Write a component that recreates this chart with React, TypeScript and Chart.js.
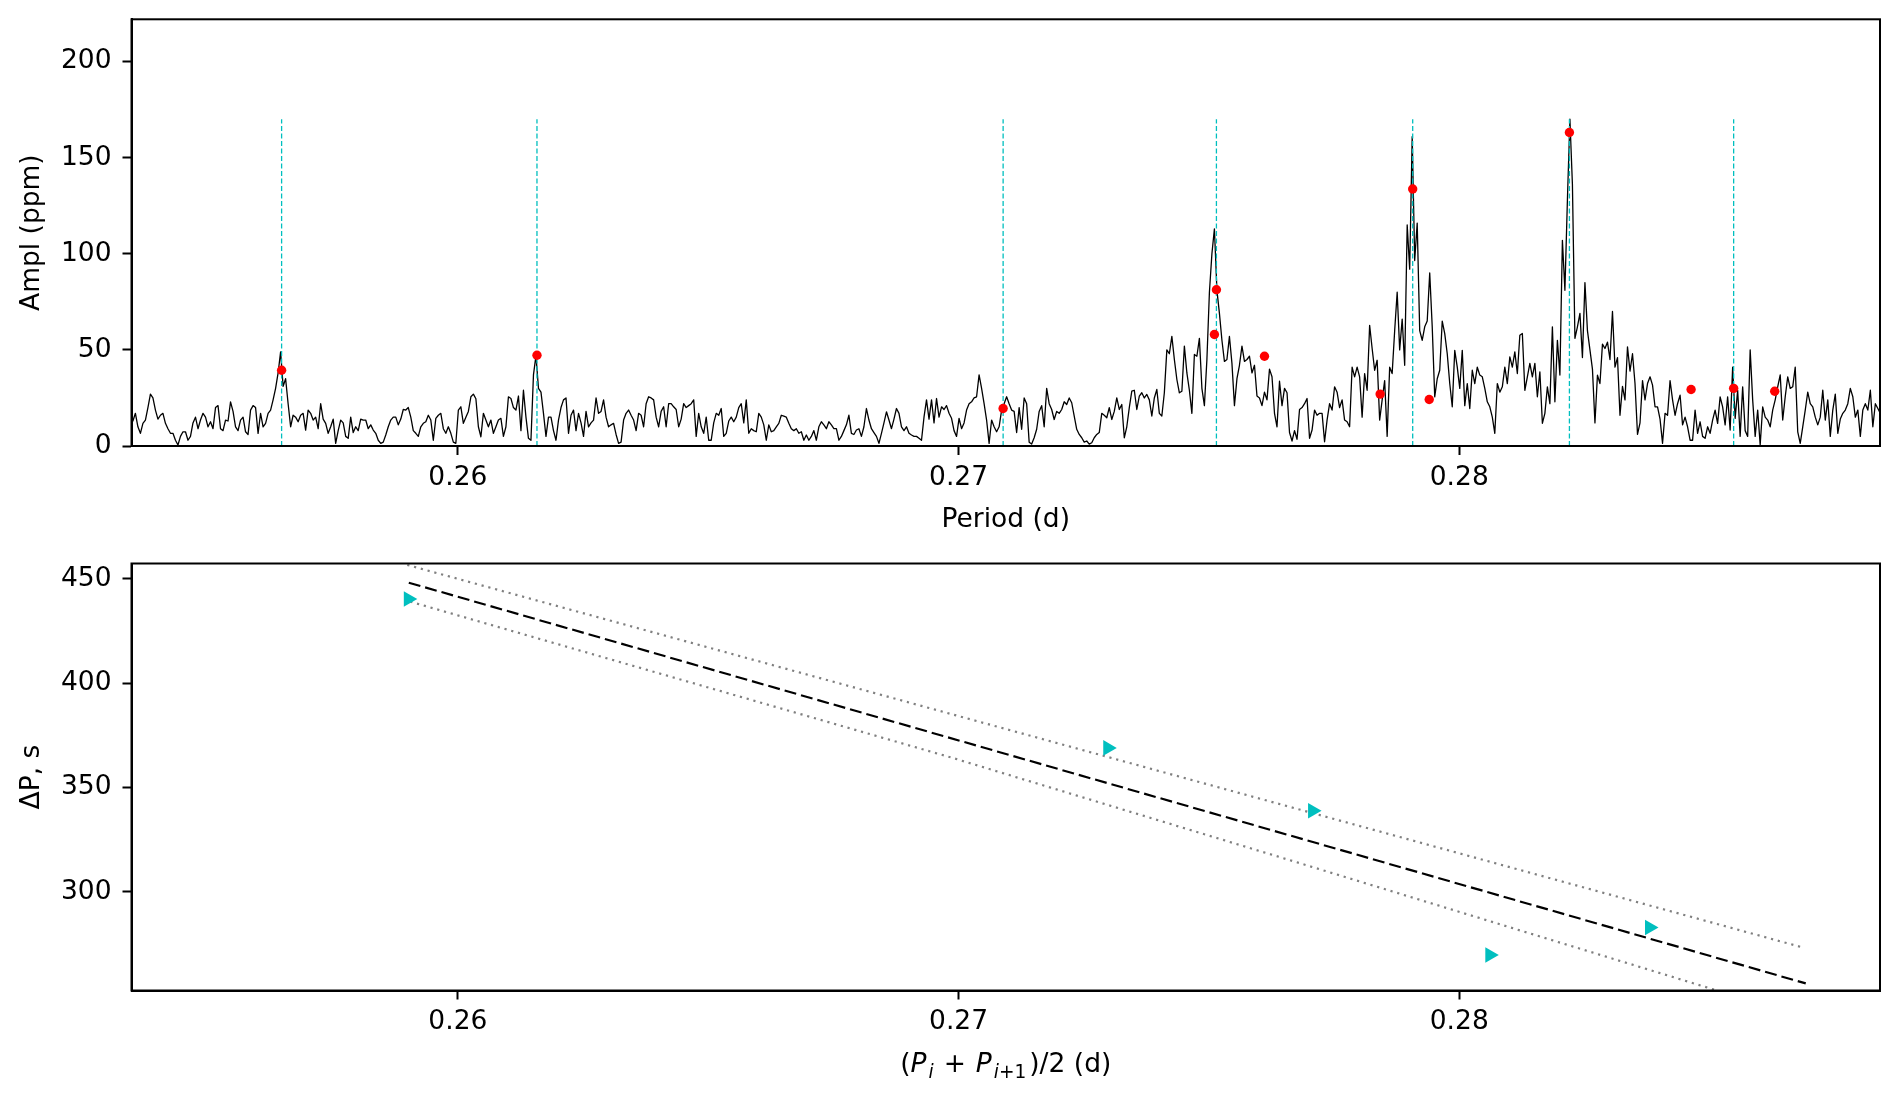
import React, { useEffect, useRef } from 'react';
import { Chart, registerables } from 'chart.js';

Chart.register(...registerables);

const FONT_FAMILY = '"DejaVu Sans", sans-serif';
const FONT_SIZE = 26.5;

// ---------- shared period axis ----------
const PERIOD_MIN = 0.253482;
const PERIOD_MAX = 0.288403;
const PERIOD_TICKS = [0.26, 0.27, 0.28];
const PERIOD_TICK_LABELS = ['0.26', '0.27', '0.28'];

// ---------- top panel: amplitude spectrum ----------
const AMPL_MIN = 0;
const AMPL_MAX = 222;
const AMPL_TICKS = [0, 50, 100, 150, 200];
const AMPL_TICK_LABELS = ['0', '50', '100', '150', '200'];

// amplitude (ppm) sampled every 0.00005 d starting at SPECTRUM_START
const SPECTRUM_START = 0.25346;
const SPECTRUM_STEP = 0.00005;
const SPECTRUM_AMPL = [
  12, 13,
  17, 10, 6.6, 11.8, 13.5, 20, 27, 25, 18.7, 14,
  16, 17, 11.8, 9, 6.6, 6.6, 3, 0.5, 5, 7.4,
  7.4, 3, 5, 12, 15, 9, 13.5, 17, 15, 10,
  12.6, 9, 20, 21, 9, 8, 13.5, 13, 23, 18,
  10, 8, 13.5, 15, 7.4, 6, 18.7, 21, 20, 6.6,
  17, 10, 11.8, 17, 18.7, 24, 30, 38, 49, 31,
  35, 22, 10, 16, 15, 12.6, 16, 17, 8.3, 18.7,
  17, 13.5, 15, 9, 22, 14, 11.8, 6.6, 10, 14,
  1.4, 8, 13.5, 12, 5, 4, 15, 7, 10, 8,
  14, 13.5, 13.5, 9, 11, 8.3, 6.6, 3, 1.4, 2,
  5.7, 10, 13.5, 15, 15, 11, 14, 19, 18.7, 20,
  15, 8, 6.6, 5, 10, 11.8, 12.6, 16, 13.5, 3,
  14.4, 16, 17, 9, 6.6, 10, 6.6, 2, 1.4, 18.7,
  20.4, 11.8, 15, 18, 25.6, 27, 24.6, 10, 4.8, 17,
  13.5, 10, 13.5, 6.6, 10, 13.5, 14.4, 5, 10, 25.6,
  24.7, 20, 18.7, 26, 8, 29, 15, 4, 3, 37,
  47, 30, 28, 17, 5, 15, 15, 8, 3, 13.5,
  20, 24, 25, 6.6, 16, 18.7, 8, 17, 12, 5,
  18, 10, 12, 13.5, 25, 17, 18, 24, 15, 10,
  11, 11.8, 6, 1.4, 2, 13.5, 17, 18.7, 16, 13.5,
  8, 17, 16, 10, 22, 25.6, 25, 24, 15, 10,
  18, 20.4, 10, 22, 22, 20.4, 19, 10, 14, 22,
  20, 21, 22, 24, 5, 17, 10, 6.6, 15, 3,
  3, 12, 17, 16,
  19.5, 5, 6.6, 13, 15, 12.6, 15, 20, 22, 12,
  24, 6.6, 9, 8, 7.4, 17, 15, 11, 3, 11,
  7.4, 8, 10, 11.8, 16, 15.5, 15, 11.8, 9, 8,
  9, 6.6, 7.4, 3, 5.7, 3, 5, 8, 3, 10,
  12.6, 11, 9, 12.6, 11, 9, 9, 3, 5, 8,
  11, 16, 6.6, 6, 8.3, 9, 5, 10, 19.5, 13.5,
  9, 7, 5, 1.4, 6.6, 12, 17.8, 13.5, 9, 14,
  19.5, 17, 10, 8, 10, 6.6, 5.7, 5, 5, 4,
  3, 15, 24, 14, 24, 12, 24.7, 15, 20.4, 19,
  21, 17, 14.4, 8, 5, 14.4, 9, 12, 18.7, 22,
  23, 25, 25.6, 37, 30, 22, 13.5, 1.4, 13.5, 10,
  7.4, 10, 18.7, 22, 25.6, 22, 18.7, 18,
  7, 20, 8.7, 25, 22, 2, 1, 4.3, 8.7, 18,
  21, 10, 30, 22, 19, 13.8, 18, 17, 19, 23,
  21.6, 25, 22.5, 15.6, 8.7, 6, 4.3, 2, 2.6, 1,
  1.7, 4.3, 6, 7, 17, 16, 14.7, 20, 13.8, 18,
  25, 19, 21.6, 4.3, 10, 20, 28.5, 29, 19, 26,
  27.7, 25, 26.8, 24, 15.6, 25, 29.4, 17, 15.6, 27.7,
  50, 48, 57, 45, 34.6, 27.7, 28.5, 52, 38, 29,
  17, 47.6, 46.7, 56, 30, 21, 45, 80, 100, 113,
  81, 69, 55, 44, 45, 57, 43, 21, 35, 42,
  52, 44, 45, 46.7, 38, 42, 26, 25, 21, 28,
  24, 40, 36, 17, 10, 33.7, 21, 30, 27.7, 7,
  2.6, 8, 3.5, 19, 20, 22,
  24.7, 4, 8.3, 18.7, 16, 17, 17, 2.2, 13.5, 22,
  18.7, 30.8, 28, 20, 24, 13.5, 12.6, 10, 41, 36,
  41, 36, 15, 37.7, 29, 62.8, 50.7, 39.4, 44.6, 13.5,
  24, 34, 5, 41, 37.7, 60, 80, 50, 66, 42,
  115, 92, 161, 96.5, 116, 60, 55, 62, 65, 90,
  62, 25.6, 35, 39.4, 65, 58.5, 48, 32.5, 20.4, 49.8,
  41, 30, 49.8, 21, 32.5, 19.5, 39.4, 32.5, 41, 36.9,
  36, 30, 23, 20.4, 15, 6.6, 32.5, 28, 30.8, 41,
  32.5, 46.4, 41, 49, 37.7, 57.6, 58.5, 29, 36, 43,
  36, 43, 25.6, 38.6, 11.8, 17, 30.8, 22, 62, 23,
  55, 36.9, 107, 81, 128, 170, 136, 56, 62, 69,
  46, 85, 60, 50, 40, 12,
  36.9, 32.5, 53, 50.7, 54, 45, 70, 41, 46, 16,
  31, 24, 51.6, 39, 48, 32.5, 6, 12, 34, 24,
  32.5, 36, 31.7, 20.4, 20.4, 14, 1.4, 17, 16, 34,
  24, 16, 22, 26.5, 11, 15, 10, 3, 3, 18.7,
  6.6, 12.6, 5, 4, 10, 6.6, 13.5, 18.7, 11.8, 25.6,
  20.4, 11, 25.6, 8.3, 41, 14.4, 29, 5, 30.8, 8,
  5, 50, 24, 5, 18.7, 0.5, 20.4, 15, 13.5, 10,
  18.7, 24, 30.8, 37, 13.5, 25.6, 36, 30, 30.8, 41,
  7.4, 1.4, 10, 18.7, 28, 22, 20.4, 15, 11, 15,
  29, 13.5, 24, 5, 18.7, 27, 6.6, 14, 17, 18.7,
  22, 30, 25.6, 15, 18.7, 5, 18.7, 22, 18.7, 29,
  10, 22, 19.5, 17, 18,
];

const MODE_PERIODS = [0.25648, 0.26158, 0.27089, 0.27515, 0.27907, 0.2822, 0.28548];
const MODE_LINE_TOP = 170;

const PEAK_PERIODS = [0.25648, 0.26158, 0.27089, 0.27515, 0.27511, 0.27611, 0.27907, 0.27842, 0.2794, 0.2822, 0.28463, 0.28548, 0.2863];
const PEAK_AMPL = [39.4, 47.2, 19.5, 81.3, 58, 46.7, 133.7, 27, 24.2, 163.1, 29.4, 30, 28.5];

// ---------- bottom panel: period spacing ----------
const DP_MIN = 252.7;
const DP_MAX = 457.4;
const DP_TICKS = [300, 350, 400, 450];
const DP_TICK_LABELS = ['300', '350', '400', '450'];

const MEAN_PERIODS = [0.25901, 0.27298, 0.27707, 0.28061, 0.2838];
const DELTA_P = [440.4, 369.0, 338.9, 269.7, 282.9];

const FIT_PERIODS = [0.25902, 0.28692];
const FIT_DP = [448.2, 256.1];
const UPPER_PERIODS = [0.25899, 0.28688];
const UPPER_DP = [456.7, 273.2];
const LOWER_PERIODS = [0.25905, 0.26991, 0.27682, 0.28512];
const LOWER_DP = [439.1, 364.0, 313.7, 252.9];

// ---------- layout (pixels) ----------
const W = 1900;
const TOP_H = 540;
const BOT_H = 560;
const Y_AXIS_W = 131.5;
const RIGHT_PAD = 20;

const font = (size = FONT_SIZE) => ({ family: FONT_FAMILY, size, lineHeight: 1.2 });

const framePlugin = {
  id: 'frame',
  afterDraw(chart: any) {
    const { ctx, chartArea: a } = chart;
    ctx.save();
    ctx.strokeStyle = '#000';
    ctx.lineWidth = 2;
    ctx.strokeRect(a.left, a.top, a.right - a.left, a.bottom - a.top);
    ctx.restore();
  },
};

const mathTitlePlugin = {
  id: 'mathTitle',
  afterDraw(chart: any) {
    const { ctx, chartArea } = chart;
    const reg = `${FONT_SIZE}px ${FONT_FAMILY}`;
    const it = `italic ${FONT_SIZE}px ${FONT_FAMILY}`;
    const sub = `${FONT_SIZE * 0.7}px ${FONT_FAMILY}`;
    const subIt = `italic ${FONT_SIZE * 0.7}px ${FONT_FAMILY}`;
    const dy = 6;
    const parts: { t: string; f: string; dy: number; gap?: number }[] = [
      { t: '(', f: reg, dy: 0 },
      { t: 'P', f: it, dy: 0 },
      { t: '', f: reg, dy: 0, gap: 2 },
      { t: 'i', f: subIt, dy },
      { t: '', f: reg, dy: 0, gap: 10 },
      { t: '+', f: reg, dy: 0 },
      { t: '', f: reg, dy: 0, gap: 10 },
      { t: 'P', f: it, dy: 0 },
      { t: '', f: reg, dy: 0, gap: 2 },
      { t: 'i', f: subIt, dy },
      { t: '+1', f: sub, dy },
      { t: '', f: reg, dy: 0, gap: 3 },
      { t: ')/2 (d)', f: reg, dy: 0 },
    ];
    ctx.save();
    let total = 0;
    const widths = parts.map((p) => {
      ctx.font = p.f;
      const w = p.gap ?? ctx.measureText(p.t).width;
      total += w;
      return w;
    });
    let x = (chartArea.left + chartArea.right) / 2 - total / 2;
    const baseline = 531.8;
    ctx.fillStyle = '#000';
    ctx.textBaseline = 'alphabetic';
    ctx.textAlign = 'left';
    parts.forEach((p, i) => {
      if (p.t) {
        ctx.font = p.f;
        ctx.fillText(p.t, x, baseline + p.dy);
      }
      x += widths[i];
    });
    ctx.restore();
  },
};

function periodAxis(height: number, title: string, titlePadBottom: number) {
  return {
    type: 'linear',
    position: 'bottom',
    min: PERIOD_MIN,
    max: PERIOD_MAX,
    afterBuildTicks: (s: any) => {
      s.ticks = PERIOD_TICKS.map((v) => ({ value: v }));
    },
    afterFit: (s: any) => {
      s.height = height;
      s.paddingLeft = 0;
      s.paddingRight = 0;
    },
    ticks: {
      color: '#000',
      font: font(),
      padding: 7,
      maxRotation: 0,
      autoSkip: false,
      callback: (_v: any, i: number) => PERIOD_TICK_LABELS[i],
    },
    grid: { drawOnChartArea: false, drawTicks: true, tickLength: 9, tickWidth: 2, tickColor: '#000' },
    border: { display: true, color: '#000', width: 2 },
    title: {
      display: title !== '',
      text: title,
      color: '#000',
      font: font(),
      padding: { top: 0, bottom: titlePadBottom },
    },
  };
}

function valueAxis(min: number, max: number, ticks: number[], labels: string[], title: string) {
  return {
    type: 'linear',
    position: 'left',
    min,
    max,
    afterBuildTicks: (s: any) => {
      s.ticks = ticks.map((v) => ({ value: v }));
    },
    afterFit: (s: any) => {
      s.width = Y_AXIS_W;
      s.paddingTop = 0;
      s.paddingBottom = 0;
    },
    ticks: {
      color: '#000',
      font: font(),
      padding: 11,
      autoSkip: false,
      callback: (_v: any, i: number) => labels[i],
    },
    grid: { drawOnChartArea: false, drawTicks: true, tickLength: 9, tickWidth: 2, tickColor: '#000' },
    border: { display: true, color: '#000', width: 2 },
    title: {
      display: true,
      text: title,
      color: '#000',
      font: font(),
      padding: { top: 16.6, bottom: 0 },
    },
  };
}

function topConfig(): any {
  const dots = {
    label: 'peaks',
    data: PEAK_PERIODS.map((p, i) => ({ x: p, y: PEAK_AMPL[i] })),
    showLine: false,
    pointRadius: 4.7,
    pointBackgroundColor: '#ff0000',
    pointBorderWidth: 0,
    pointHoverRadius: 4.7,
  };
  const modes = MODE_PERIODS.map((p) => ({
    label: 'mode',
    data: [
      { x: p, y: 0 },
      { x: p, y: MODE_LINE_TOP },
    ],
    borderColor: '#00bfbf',
    borderWidth: 1.3,
    borderDash: [5, 2.5],
    pointRadius: 0,
  }));
  const spectrum = {
    label: 'spectrum',
    data: SPECTRUM_AMPL.map((a, i) => ({ x: SPECTRUM_START + i * SPECTRUM_STEP, y: a })),
    borderColor: '#000',
    borderWidth: 1.3,
    borderJoinStyle: 'round',
    pointRadius: 0,
    tension: 0,
  };
  return {
    type: 'line',
    data: { datasets: [dots, ...modes, spectrum] },
    options: {
      responsive: false,
      animation: false,
      devicePixelRatio: 1,
      events: [],
      layout: { padding: { top: 19.3, right: RIGHT_PAD, bottom: 0, left: 0 } },
      plugins: { legend: { display: false }, tooltip: { enabled: false } },
      scales: {
        x: periodAxis(TOP_H - 446, 'Period (d)', 4.1),
        y: valueAxis(AMPL_MIN, AMPL_MAX, AMPL_TICKS, AMPL_TICK_LABELS, 'Ampl (ppm)'),
      },
    },
    plugins: [framePlugin],
  };
}

function bottomConfig(): any {
  const markers = {
    label: 'spacing',
    data: MEAN_PERIODS.map((p, i) => ({ x: p, y: DELTA_P[i] })),
    showLine: false,
    pointStyle: 'triangle',
    rotation: 90,
    pointRadius: 9,
    pointHoverRadius: 9,
    pointBackgroundColor: '#00bfbf',
    pointBorderColor: '#00bfbf',
    pointBorderWidth: 0,
  };
  const fit = {
    label: 'fit',
    data: FIT_PERIODS.map((p, i) => ({ x: p, y: FIT_DP[i] })),
    borderColor: '#000',
    borderWidth: 2.2,
    borderDash: [12, 5],
    pointRadius: 0,
  };
  const upper = {
    label: 'upper',
    data: UPPER_PERIODS.map((p, i) => ({ x: p, y: UPPER_DP[i] })),
    borderColor: '#808080',
    borderWidth: 2.2,
    borderDash: [2.2, 4.8],
    pointRadius: 0,
  };
  const lower = {
    label: 'lower',
    data: LOWER_PERIODS.map((p, i) => ({ x: p, y: LOWER_DP[i] })),
    borderColor: '#808080',
    borderWidth: 2.2,
    borderDash: [2.2, 4.8],
    pointRadius: 0,
  };
  return {
    type: 'line',
    data: { datasets: [markers, fit, upper, lower] },
    options: {
      responsive: false,
      animation: false,
      devicePixelRatio: 1,
      events: [],
      layout: { padding: { top: 563.5 - TOP_H, right: RIGHT_PAD, bottom: 0, left: 0 } },
      plugins: { legend: { display: false }, tooltip: { enabled: false } },
      scales: {
        x: periodAxis(BOT_H - (990.5 - TOP_H), '', 0),
        y: valueAxis(DP_MIN, DP_MAX, DP_TICKS, DP_TICK_LABELS, 'ΔP, s'),
      },
    },
    plugins: [framePlugin, mathTitlePlugin],
  };
}

export default function App() {
  const topRef = useRef<HTMLCanvasElement>(null);
  const botRef = useRef<HTMLCanvasElement>(null);

  useEffect(() => {
    const top = new Chart(topRef.current as HTMLCanvasElement, topConfig());
    const bot = new Chart(botRef.current as HTMLCanvasElement, bottomConfig());
    return () => {
      top.destroy();
      bot.destroy();
    };
  }, []);

  return (
    <div style={{ position: 'absolute', left: 0, top: 0, width: W, height: TOP_H + BOT_H, background: '#fff' }}>
      <canvas
        ref={topRef}
        width={W}
        height={TOP_H}
        style={{ position: 'absolute', left: 0, top: 0, width: W, height: TOP_H }}
      />
      <canvas
        ref={botRef}
        width={W}
        height={BOT_H}
        style={{ position: 'absolute', left: 0, top: TOP_H, width: W, height: BOT_H }}
      />
    </div>
  );
}
